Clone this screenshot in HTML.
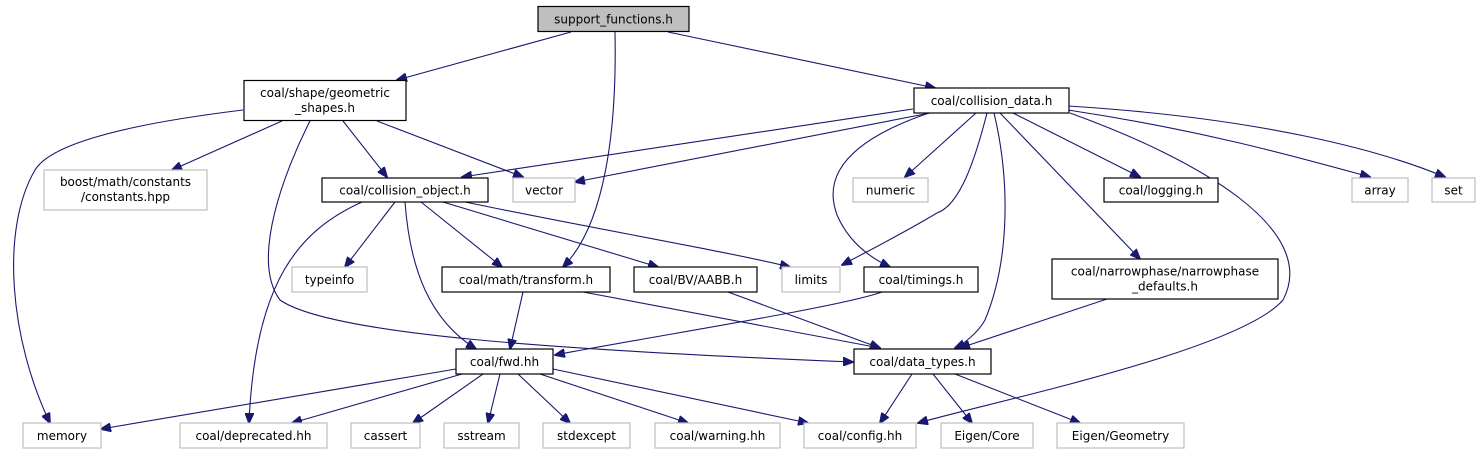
<!DOCTYPE html>
<html><head><meta charset="utf-8"><style>
html,body{margin:0;padding:0;background:#fff;}
svg{display:block;}
text{font-family:"DejaVu Sans","Liberation Sans",sans-serif;font-size:12px;fill:#000;}
.b{fill:#fff;stroke:#000;stroke-width:1.2;}
.g{fill:#fff;stroke:#bfbfbf;stroke-width:1.2;}
.e{fill:none;stroke:#191970;stroke-width:1.1;}
</style></head><body>
<svg width="1480" height="455" viewBox="0 0 1480 455" xmlns="http://www.w3.org/2000/svg">
<defs>
<marker id="a" markerWidth="11" markerHeight="9" refX="10" refY="4.5" orient="auto" markerUnits="userSpaceOnUse">
<path d="M0,0 L11,4.5 L0,9 Z" fill="#191970" stroke="#191970"/>
</marker>
</defs>
<g marker-end="url(#a)">
<path class="e" d="M571,32 L397,80"/>
<path class="e" d="M615,32 C617,130 605,225 563,267"/>
<path class="e" d="M668,32 L935,88"/>
<path class="e" d="M243,110 C120,125 50,145 35,170 C0,230 10,340 50,423"/>
<path class="e" d="M282,121 L172,170"/>
<path class="e" d="M310,121 C285,170 250,260 280,300 C330,335 560,350 853,362"/>
<path class="e" d="M343,121 L387,177"/>
<path class="e" d="M377,121 L523,177"/>
<path class="e" d="M913,109 L462,177"/>
<path class="e" d="M930,113 L575,182"/>
<path class="e" d="M929,113 C820,150 830,195 837,215 C850,245 875,260 890,267"/>
<path class="e" d="M987,113 C975,160 960,205 937,213 C900,235 870,250 842,265"/>
<path class="e" d="M976,113 L905,177"/>
<path class="e" d="M994,113 C1010,180 1010,260 985,320 C978,333 962,345 955,348"/>
<path class="e" d="M1000,113 L1140,259"/>
<path class="e" d="M1013,113 L1140,177"/>
<path class="e" d="M1070,113 C1200,160 1320,230 1283,300 C1240,350 1000,400 918,423"/>
<path class="e" d="M1068,110 C1200,130 1290,155 1370,177"/>
<path class="e" d="M1068,106 C1260,118 1380,150 1445,177"/>
<path class="e" d="M362,202 C300,230 255,280 249,423"/>
<path class="e" d="M395,202 L345,267"/>
<path class="e" d="M405,202 C410,270 430,320 476,349"/>
<path class="e" d="M421,202 L502,267"/>
<path class="e" d="M443,202 L658,267"/>
<path class="e" d="M465,202 C600,230 720,250 790,267"/>
<path class="e" d="M523,292 L510,349"/>
<path class="e" d="M583,292 L880,348"/>
<path class="e" d="M728,292 L880,348"/>
<path class="e" d="M882,292 C840,307 660,335 555,355"/>
<path class="e" d="M1107,299 L960,348"/>
<path class="e" d="M912,374 L880,423"/>
<path class="e" d="M933,374 L972,423"/>
<path class="e" d="M955,374 L1080,423"/>
<path class="e" d="M456,369 L101,429"/>
<path class="e" d="M462,374 L292,423"/>
<path class="e" d="M483,374 L413,423"/>
<path class="e" d="M500,374 L488,423"/>
<path class="e" d="M518,374 L570,423"/>
<path class="e" d="M540,374 L688,423"/>
<path class="e" d="M553,369 L808,423"/>
</g>
<!-- nodes -->
<rect x="538" y="6.5" width="151" height="25" fill="#bfbfbf" stroke="#000" stroke-width="1.2"/>
<text x="613.5" y="23.5" text-anchor="middle">support_functions.h</text>
<rect class="b" x="244" y="80.5" width="162" height="40"/>
<text x="325" y="97" text-anchor="middle">coal/shape/geometric</text>
<text x="325" y="112" text-anchor="middle">_shapes.h</text>
<rect class="b" x="914" y="88" width="155" height="25"/>
<text x="991.5" y="105" text-anchor="middle">coal/collision_data.h</text>
<rect class="g" x="44" y="170" width="163" height="40"/>
<text x="125.5" y="186" text-anchor="middle" fill="#000">boost/math/constants</text>
<text x="125.5" y="201" text-anchor="middle">/constants.hpp</text>
<rect class="b" x="322" y="178" width="166" height="24"/>
<text x="405" y="194.5" text-anchor="middle">coal/collision_object.h</text>
<rect class="g" x="513" y="178" width="62" height="24"/>
<text x="544" y="194.5" text-anchor="middle">vector</text>
<rect class="g" x="853" y="178" width="75" height="24"/>
<text x="890.5" y="194.5" text-anchor="middle">numeric</text>
<rect class="b" x="1104" y="178" width="114" height="24"/>
<text x="1161" y="194.5" text-anchor="middle">coal/logging.h</text>
<rect class="g" x="1352" y="178" width="56" height="24"/>
<text x="1380" y="194.5" text-anchor="middle">array</text>
<rect class="g" x="1432" y="178" width="43" height="24"/>
<text x="1453.5" y="194.5" text-anchor="middle">set</text>
<rect class="g" x="292" y="267" width="75" height="25"/>
<text x="329.5" y="284" text-anchor="middle">typeinfo</text>
<rect class="b" x="442" y="267" width="168" height="25"/>
<text x="526" y="284" text-anchor="middle">coal/math/transform.h</text>
<rect class="b" x="634" y="267" width="123" height="25"/>
<text x="695.5" y="284" text-anchor="middle">coal/BV/AABB.h</text>
<rect class="g" x="782" y="267" width="58" height="25"/>
<text x="811" y="284" text-anchor="middle">limits</text>
<rect class="b" x="864" y="267" width="114" height="25"/>
<text x="921" y="284" text-anchor="middle">coal/timings.h</text>
<rect class="b" x="1052" y="259" width="226" height="40"/>
<text x="1165" y="275.5" text-anchor="middle">coal/narrowphase/narrowphase</text>
<text x="1165" y="290.5" text-anchor="middle">_defaults.h</text>
<rect class="b" x="456" y="349" width="97" height="25"/>
<text x="504.5" y="366" text-anchor="middle">coal/fwd.hh</text>
<rect class="b" x="854" y="349" width="137" height="25"/>
<text x="922.5" y="366" text-anchor="middle">coal/data_types.h</text>
<rect class="g" x="23" y="423" width="78" height="25"/>
<text x="62" y="440" text-anchor="middle">memory</text>
<rect class="g" x="180" y="423" width="147" height="25"/>
<text x="253.5" y="440" text-anchor="middle">coal/deprecated.hh</text>
<rect class="g" x="351" y="423" width="69" height="25"/>
<text x="385.5" y="440" text-anchor="middle">cassert</text>
<rect class="g" x="444" y="423" width="75" height="25"/>
<text x="481.5" y="440" text-anchor="middle">sstream</text>
<rect class="g" x="543" y="423" width="87" height="25"/>
<text x="586.5" y="440" text-anchor="middle">stdexcept</text>
<rect class="g" x="655" y="423" width="125" height="25"/>
<text x="717.5" y="440" text-anchor="middle">coal/warning.hh</text>
<rect class="g" x="804" y="423" width="112" height="25"/>
<text x="860" y="440" text-anchor="middle">coal/config.hh</text>
<rect class="g" x="941" y="423" width="92" height="25"/>
<text x="987" y="440" text-anchor="middle">Eigen/Core</text>
<rect class="g" x="1057" y="423" width="127" height="25"/>
<text x="1120.5" y="440" text-anchor="middle">Eigen/Geometry</text>
</svg>
</body></html>
